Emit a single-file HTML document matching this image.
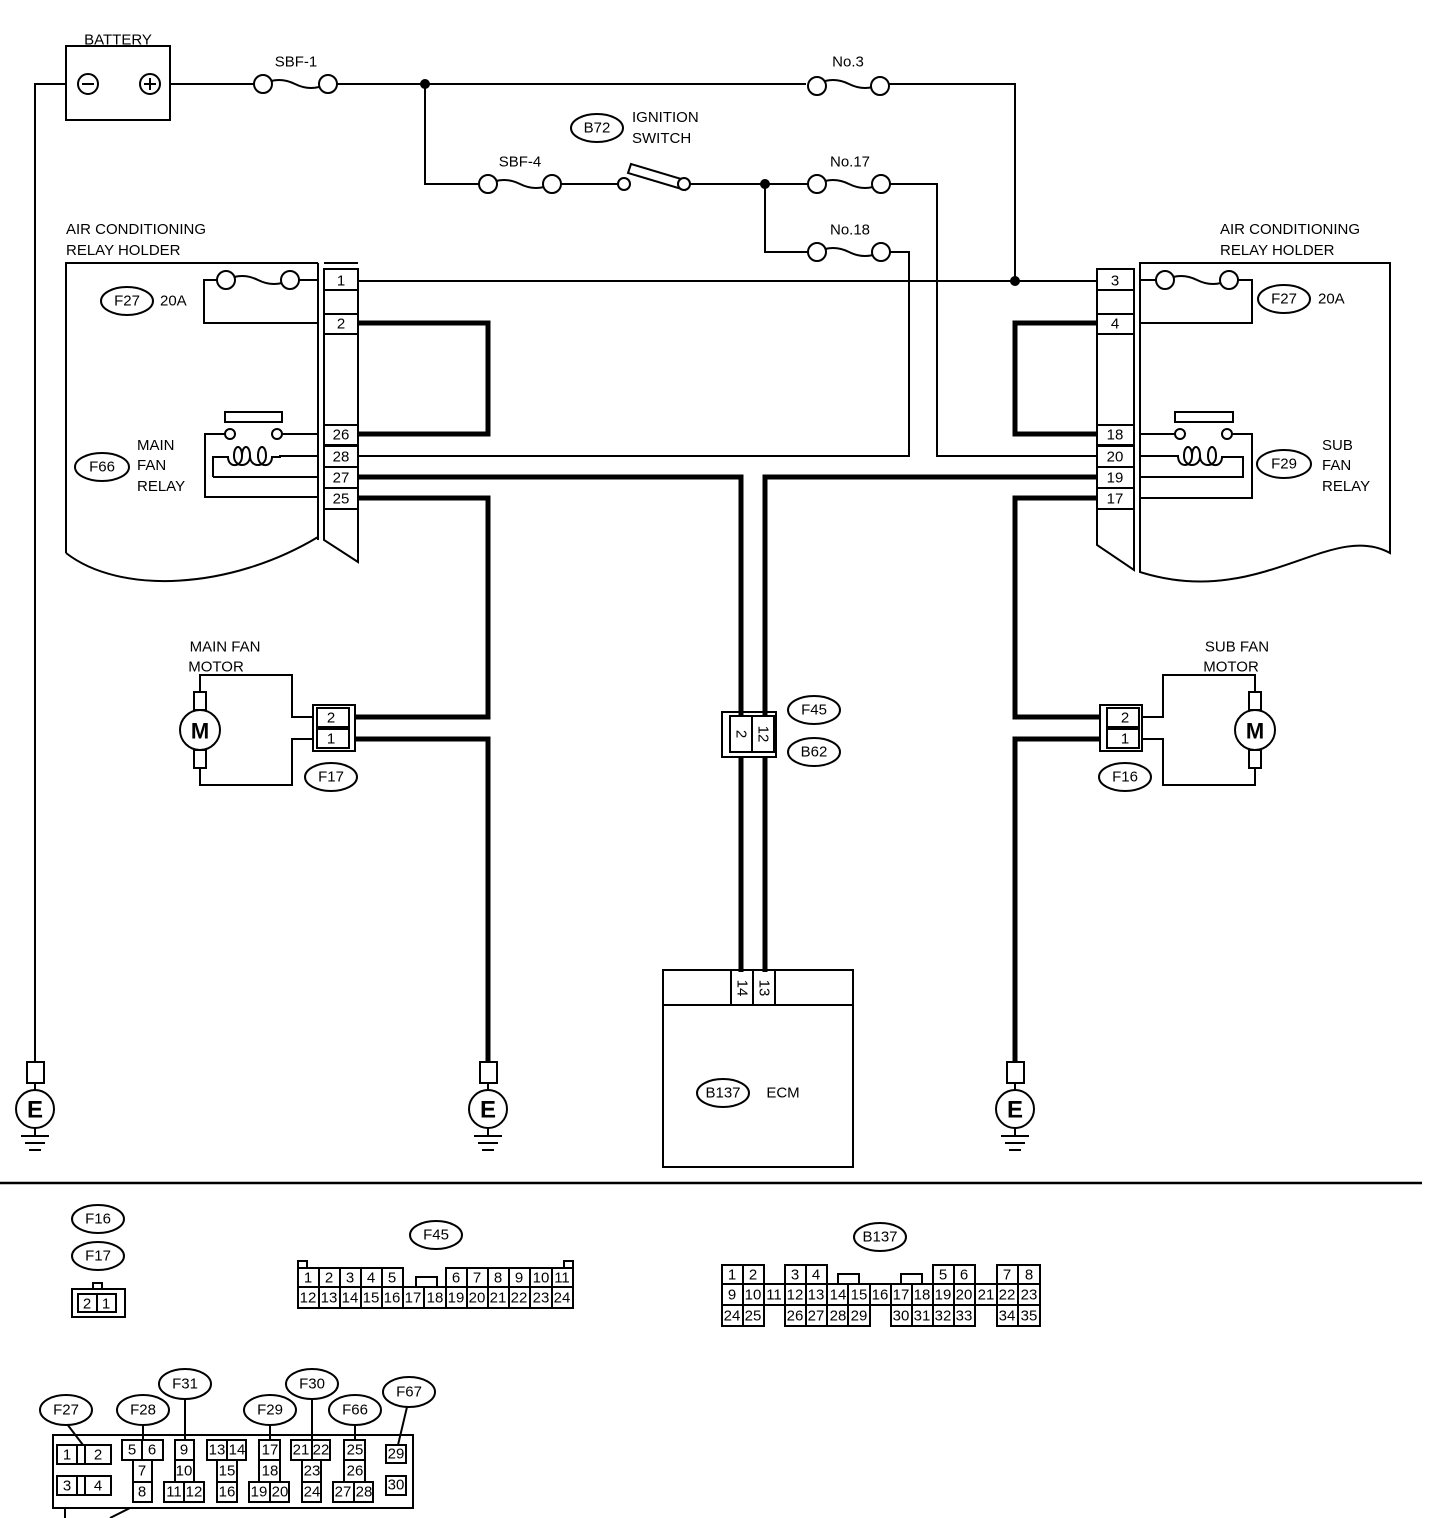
<!DOCTYPE html>
<html><head><meta charset="utf-8"><style>
html,body{margin:0;padding:0;background:#fff}
svg{display:block}
text{font-family:"Liberation Sans",sans-serif;font-size:15px;fill:#000}
.t{stroke:#000;stroke-width:2;fill:none}
.k{stroke:#000;stroke-width:5;fill:none}
.c{stroke:#000;stroke-width:2;fill:#fff}
.m{text-anchor:middle;dominant-baseline:central}
</style></head><body>
<svg width="1440" height="1518" viewBox="0 0 1440 1518" xmlns="http://www.w3.org/2000/svg">
<!-- Battery -->
<text x="118" y="40" class="m">BATTERY</text>
<rect x="66" y="46" width="104" height="74" class="t"/>
<circle cx="88" cy="84" r="10" class="t"/><line x1="82" y1="84" x2="94" y2="84" class="t"/>
<circle cx="150" cy="84" r="10" class="t"/><line x1="144" y1="84" x2="156" y2="84" class="t"/><line x1="150" y1="78" x2="150" y2="90" class="t"/>
<polyline points="66,84 35,84 35,1062" class="t"/>
<!-- top wire -->
<line x1="170" y1="84" x2="254" y2="84" class="t"/>
<path d="M263,84 q16,-8 32,0 t32,0" class="t"/>
<circle cx="263" cy="84" r="9" class="c"/><circle cx="328" cy="84" r="9" class="c"/>
<text x="296" y="62" class="m">SBF-1</text>
<line x1="337" y1="84" x2="806" y2="84" class="t"/>
<circle cx="425" cy="84" r="5" fill="#000"/>
<path d="M817,84 q16,-8 32,0 t32,0" class="t"/>
<circle cx="817" cy="86" r="9" class="c"/><circle cx="880" cy="86" r="9" class="c"/>
<text x="848" y="62" class="m">No.3</text>
<polyline points="889,84 1015,84 1015,281" class="t"/>
<circle cx="1015" cy="281" r="5" fill="#000"/>
<!-- SBF-4 row -->
<polyline points="425,84 425,184 479,184" class="t"/>
<path d="M488,184 q16,-8 32,0 t32,0" class="t"/>
<circle cx="488" cy="184" r="9" class="c"/><circle cx="552" cy="184" r="9" class="c"/>
<text x="520" y="162" class="m">SBF-4</text>
<line x1="561" y1="184" x2="618" y2="184" class="t"/>
<circle cx="624" cy="184" r="6" class="c"/>
<polygon points="631,164 688,181 685,190 628,173" class="t"/>
<circle cx="684" cy="184" r="6" class="c"/>
<line x1="690" y1="184" x2="808" y2="184" class="t"/>
<circle cx="765" cy="184" r="5" fill="#000"/>
<path d="M817,184 q16,-8 32,0 t32,0" class="t"/>
<circle cx="817" cy="184" r="9" class="c"/><circle cx="881" cy="184" r="9" class="c"/>
<text x="850" y="162" class="m">No.17</text>
<polyline points="890,184 937,184 937,456 1098,456" class="t"/>
<ellipse cx="597" cy="128" rx="26" ry="14" class="t" stroke-width="3"/>
<text x="597" y="128" class="m">B72</text>
<text x="632" y="122">IGNITION</text><text x="632" y="143">SWITCH</text>
<polyline points="765,184 765,252 808,252" class="t"/>
<path d="M817,252 q16,-8 32,0 t32,0" class="t"/>
<circle cx="817" cy="252" r="9" class="c"/><circle cx="881" cy="252" r="9" class="c"/>
<text x="850" y="230" class="m">No.18</text>
<polyline points="890,252 909,252 909,456 358,456" class="t"/>
<!-- Left relay holder -->
<text x="66" y="234">AIR CONDITIONING</text><text x="66" y="255">RELAY HOLDER</text>
<path d="M66,553 L66,263 L318,263 M318,263 L318,540 M66,553 C120,595 230,590 318,537" class="t"/>
<path d="M324,263 L358,263 M324,269 L324,540 L358,562 L358,269" class="t"/>
<g class="t">
<rect x="324" y="269" width="34" height="21"/><rect x="324" y="290" width="34" height="24"/><rect x="324" y="314" width="34" height="20"/>
<rect x="324" y="425" width="34" height="20"/><rect x="324" y="446" width="34" height="21"/><rect x="324" y="467" width="34" height="21"/><rect x="324" y="488" width="34" height="21"/>
</g>
<text x="341" y="281" class="m">1</text><text x="341" y="324" class="m">2</text><text x="341" y="435" class="m">26</text><text x="341" y="457" class="m">28</text><text x="341" y="478" class="m">27</text><text x="341" y="499" class="m">25</text>
<path d="M226,280 q16,-8 32,0 t32,0" class="t"/>
<circle cx="226" cy="280" r="9" class="c"/><circle cx="290" cy="280" r="9" class="c"/>
<polyline points="217,280 204,280 204,323 318,323" class="t"/><line x1="299" y1="280" x2="318" y2="280" class="t"/>
<ellipse cx="127" cy="301" rx="26" ry="14" class="t" stroke-width="3"/><text x="127" y="301" class="m">F27</text><text x="160" y="301" dominant-baseline="central">20A</text>
<rect x="225" y="412" width="57" height="10" class="t"/>
<circle cx="230" cy="434" r="5" class="c"/><circle cx="277" cy="434" r="5" class="c"/>
<line x1="282" y1="434" x2="318" y2="434" class="t"/>
<polyline points="225,434 205,434 205,497 318,497" class="t"/>
<path d="M213,477 L213,457 L228,457 C228,468 242,468 242,456 C242,444 234,444 234,456 C234,468 250,468 250,456 C250,444 242,444 242,456 M250,456 C250,468 266,468 266,456 C266,444 258,444 258,456 C258,468 272,468 272,457 L280,457 L280,456 L318,456 M213,477 L318,477" class="t"/>
<ellipse cx="102" cy="467" rx="27" ry="14" class="t" stroke-width="3"/><text x="102" y="467" class="m">F66</text>
<text x="137" y="450">MAIN</text><text x="137" y="470">FAN</text><text x="137" y="491">RELAY</text>
<!-- Right relay holder -->
<text x="1220" y="234">AIR CONDITIONING</text><text x="1220" y="255">RELAY HOLDER</text>
<path d="M1140,263 L1390,263 L1390,553 C1330,520 1260,610 1140,572 Z" class="t"/>
<path d="M1097,269 L1134,269 L1134,570 L1097,545 Z" class="t"/>
<g class="t">
<rect x="1097" y="269" width="37" height="21"/><rect x="1097" y="290" width="37" height="24"/><rect x="1097" y="314" width="37" height="20"/>
<rect x="1097" y="425" width="37" height="20"/><rect x="1097" y="446" width="37" height="21"/><rect x="1097" y="467" width="37" height="21"/><rect x="1097" y="488" width="37" height="21"/>
</g>
<text x="1115" y="281" class="m">3</text><text x="1115" y="324" class="m">4</text><text x="1115" y="435" class="m">18</text><text x="1115" y="457" class="m">20</text><text x="1115" y="478" class="m">19</text><text x="1115" y="499" class="m">17</text>
<path d="M1165,280 q16,-8 32,0 t32,0" class="t"/>
<circle cx="1165" cy="280" r="9" class="c"/><circle cx="1229" cy="280" r="9" class="c"/>
<polyline points="1238,280 1252,280 1252,323 1140,323" class="t"/><line x1="1140" y1="280" x2="1156" y2="280" class="t"/>
<ellipse cx="1284" cy="299" rx="26" ry="14" class="t" stroke-width="3"/><text x="1284" y="299" class="m">F27</text><text x="1318" y="299" dominant-baseline="central">20A</text>
<rect x="1175" y="412" width="58" height="10" class="t"/>
<circle cx="1180" cy="434" r="5" class="c"/><circle cx="1227" cy="434" r="5" class="c"/>
<line x1="1140" y1="434" x2="1175" y2="434" class="t"/>
<polyline points="1232,434 1252,434 1252,498 1140,498" class="t"/>
<path d="M1140,456 L1178,456 C1178,468 1192,468 1192,456 C1192,444 1184,444 1184,456 C1184,468 1200,468 1200,456 C1200,444 1192,444 1192,456 M1200,456 C1200,468 1216,468 1216,456 C1216,444 1208,444 1208,456 C1208,468 1222,468 1222,457 L1243,457 L1243,477 L1140,477" class="t"/>
<ellipse cx="1284" cy="464" rx="27" ry="14" class="t" stroke-width="3"/><text x="1284" y="464" class="m">F29</text>
<text x="1322" y="450">SUB</text><text x="1322" y="470">FAN</text><text x="1322" y="491">RELAY</text>
<!-- pin1 -> pin3 -->
<line x1="358" y1="281" x2="1097" y2="281" class="t"/>
<!-- thick wires -->
<polyline points="358,323 488,323 488,434 358,434" class="k"/>
<polyline points="358,477 741,477 741,715" class="k"/>
<polyline points="1097,477 765,477 765,715" class="k"/>
<polyline points="358,498 488,498 488,717 355,717" class="k"/>
<polyline points="355,739 488,739 488,1062" class="k"/>
<polyline points="1097,323 1015,323 1015,434 1097,434" class="k"/>
<polyline points="1097,498 1015,498 1015,717 1100,717" class="k"/>
<polyline points="1100,739 1015,739 1015,1062" class="k"/>
<line x1="741" y1="757" x2="741" y2="972" class="k"/><line x1="765" y1="757" x2="765" y2="972" class="k"/>
<!-- F45 / B62 connector -->
<rect x="722" y="712" width="54" height="45" class="t"/>
<rect x="730" y="716" width="22" height="36" class="t"/><rect x="752" y="716" width="22" height="36" class="t"/>
<text class="m" transform="translate(741,734) rotate(90)">2</text><text class="m" transform="translate(763,734) rotate(90)">12</text>
<ellipse cx="814" cy="710" rx="26" ry="14" class="t" stroke-width="3"/><text x="814" y="710" class="m">F45</text>
<ellipse cx="814" cy="752" rx="26" ry="14" class="t" stroke-width="3"/><text x="814" y="752" class="m">B62</text>
<!-- ECM -->
<rect x="663" y="970" width="190" height="197" class="t"/>
<polyline points="663,1005 853,1005" class="t"/>
<rect x="731" y="970" width="22" height="35" class="t"/><rect x="753" y="970" width="22" height="35" class="t"/>
<text class="m" transform="translate(742,988) rotate(90)">14</text><text class="m" transform="translate(764,988) rotate(90)">13</text>
<ellipse cx="723" cy="1093" rx="26" ry="14" class="t" stroke-width="3"/><text x="723" y="1093" class="m">B137</text>
<text x="783" y="1093" class="m">ECM</text>
<!-- Main fan motor -->
<text x="225" y="647" class="m">MAIN FAN</text><text x="216" y="667" class="m">MOTOR</text>
<polyline points="200,692 200,675 292,675 292,717 313,717" class="t"/>
<polyline points="200,768 200,785 292,785 292,739 313,739" class="t"/>
<rect x="194" y="692" width="12" height="18" class="t"/><rect x="194" y="750" width="12" height="18" class="t"/>
<circle cx="200" cy="730" r="20" class="c"/><text x="200" y="731" class="m" style="font-size:22px;font-weight:bold">M</text>
<rect x="313" y="705" width="42" height="46" class="t"/><rect x="317" y="708" width="32" height="19" class="t"/><rect x="317" y="729" width="32" height="19" class="t"/>
<text x="331" y="718" class="m">2</text><text x="331" y="739" class="m">1</text>
<ellipse cx="331" cy="777" rx="26" ry="14" class="t" stroke-width="3"/><text x="331" y="777" class="m">F17</text>
<!-- Sub fan motor -->
<text x="1237" y="647" class="m">SUB FAN</text><text x="1231" y="667" class="m">MOTOR</text>
<polyline points="1255,692 1255,675 1163,675 1163,717 1142,717" class="t"/>
<polyline points="1255,768 1255,785 1163,785 1163,739 1142,739" class="t"/>
<rect x="1249" y="692" width="12" height="18" class="t"/><rect x="1249" y="750" width="12" height="18" class="t"/>
<circle cx="1255" cy="730" r="20" class="c"/><text x="1255" y="731" class="m" style="font-size:22px;font-weight:bold">M</text>
<rect x="1100" y="705" width="42" height="46" class="t"/><rect x="1107" y="708" width="32" height="19" class="t"/><rect x="1107" y="729" width="32" height="19" class="t"/>
<text x="1125" y="718" class="m">2</text><text x="1125" y="739" class="m">1</text>
<ellipse cx="1125" cy="777" rx="26" ry="14" class="t" stroke-width="3"/><text x="1125" y="777" class="m">F16</text>
<!-- grounds -->
<g id="g1">
<rect x="27" y="1062" width="17" height="21" class="t"/>
<circle cx="35" cy="1109" r="19" class="t" stroke-width="3"/><text x="35" y="1110" class="m" style="font-size:24px;font-weight:bold">E</text>
<line x1="35" y1="1083" x2="35" y2="1090" class="t"/><line x1="35" y1="1128" x2="35" y2="1136" class="t"/>
<line x1="21" y1="1136" x2="49" y2="1136" class="t"/><line x1="25" y1="1143" x2="45" y2="1143" class="t"/><line x1="29" y1="1150" x2="41" y2="1150" class="t"/>
</g>
<use href="#g1" x="453"/><use href="#g1" x="980"/>
<!-- separator -->
<line x1="0" y1="1183" x2="1422" y2="1183" stroke="#000" stroke-width="2.5"/>
<!-- F16/F17 connector -->
<ellipse cx="98" cy="1219" rx="26" ry="14" class="t" stroke-width="3"/><text x="98" y="1219" class="m">F16</text>
<ellipse cx="98" cy="1256" rx="26" ry="14" class="t" stroke-width="3"/><text x="98" y="1256" class="m">F17</text>
<rect x="93" y="1283" width="9" height="6" class="t"/>
<rect x="72" y="1289" width="53" height="28" class="t"/><rect x="78" y="1294" width="19" height="18" class="t"/><rect x="97" y="1294" width="19" height="18" class="t"/>
<text x="87" y="1304" class="m">2</text><text x="106" y="1304" class="m">1</text>
<!-- F45 connector -->
<ellipse cx="436" cy="1235" rx="26" ry="14" class="t" stroke-width="3"/><text x="436" y="1235" class="m">F45</text>
<path d="M298,1268 H403 V1287 H298 Z M446,1268 H573 V1287 H446 Z M298,1287 H573 V1308 H298 Z M298,1268 v-7 h9 v7 M573,1268 v-7 h-9 v7 M416,1287 v-10 h21 v10" class="t"/>
<g class="t" stroke-width="1">
<line x1="319" y1="1268" x2="319" y2="1308"/><line x1="340" y1="1268" x2="340" y2="1308"/><line x1="361" y1="1268" x2="361" y2="1308"/><line x1="382" y1="1268" x2="382" y2="1308"/><line x1="403" y1="1287" x2="403" y2="1308"/><line x1="424" y1="1287" x2="424" y2="1308"/><line x1="446" y1="1287" x2="446" y2="1308"/><line x1="467" y1="1268" x2="467" y2="1308"/><line x1="488" y1="1268" x2="488" y2="1308"/><line x1="509" y1="1268" x2="509" y2="1308"/><line x1="530" y1="1268" x2="530" y2="1308"/><line x1="552" y1="1268" x2="552" y2="1308"/>
</g>
<g style="font-size:14px">
<text x="308" y="1278" class="m">1</text><text x="329" y="1278" class="m">2</text><text x="350" y="1278" class="m">3</text><text x="371" y="1278" class="m">4</text><text x="392" y="1278" class="m">5</text>
<text x="456" y="1278" class="m">6</text><text x="477" y="1278" class="m">7</text><text x="498" y="1278" class="m">8</text><text x="519" y="1278" class="m">9</text><text x="541" y="1278" class="m">10</text><text x="562" y="1278" class="m">11</text>
<text x="308" y="1298" class="m">12</text><text x="329" y="1298" class="m">13</text><text x="350" y="1298" class="m">14</text><text x="371" y="1298" class="m">15</text><text x="392" y="1298" class="m">16</text><text x="413" y="1298" class="m">17</text><text x="435" y="1298" class="m">18</text><text x="456" y="1298" class="m">19</text><text x="477" y="1298" class="m">20</text><text x="498" y="1298" class="m">21</text><text x="519" y="1298" class="m">22</text><text x="541" y="1298" class="m">23</text><text x="562" y="1298" class="m">24</text>
</g>
<!-- B137 connector -->
<ellipse cx="880" cy="1237" rx="26" ry="14" class="t" stroke-width="3"/><text x="880" y="1237" class="m">B137</text>
<g class="t" stroke-width="1.5">
<rect x="722" y="1265" width="42" height="19"/><rect x="785" y="1265" width="42" height="19"/><rect x="933" y="1265" width="42" height="19"/><rect x="997" y="1265" width="43" height="19"/>
<rect x="722" y="1284" width="318" height="21"/>
<rect x="722" y="1305" width="42" height="21"/><rect x="785" y="1305" width="85" height="21"/><rect x="891" y="1305" width="84" height="21"/><rect x="997" y="1305" width="43" height="21"/>
<path d="M838,1284 v-10 h21 v10 M901,1284 v-10 h21 v10"/>
<line x1="743" y1="1265" x2="743" y2="1326"/><line x1="764" y1="1284" x2="764" y2="1305"/><line x1="785" y1="1284" x2="785" y2="1305"/><line x1="806" y1="1265" x2="806" y2="1326"/><line x1="827" y1="1284" x2="827" y2="1326"/><line x1="848" y1="1284" x2="848" y2="1326"/><line x1="870" y1="1284" x2="870" y2="1305"/><line x1="891" y1="1284" x2="891" y2="1305"/><line x1="912" y1="1284" x2="912" y2="1326"/><line x1="933" y1="1284" x2="933" y2="1326"/><line x1="954" y1="1265" x2="954" y2="1326"/><line x1="975" y1="1284" x2="975" y2="1305"/><line x1="997" y1="1284" x2="997" y2="1305"/><line x1="1018" y1="1265" x2="1018" y2="1326"/>
</g>
<g style="font-size:14px">
<text x="732" y="1275" class="m">1</text><text x="753" y="1275" class="m">2</text><text x="795" y="1275" class="m">3</text><text x="816" y="1275" class="m">4</text><text x="943" y="1275" class="m">5</text><text x="964" y="1275" class="m">6</text><text x="1007" y="1275" class="m">7</text><text x="1029" y="1275" class="m">8</text>
<text x="732" y="1295" class="m">9</text><text x="753" y="1295" class="m">10</text><text x="774" y="1295" class="m">11</text><text x="795" y="1295" class="m">12</text><text x="816" y="1295" class="m">13</text><text x="838" y="1295" class="m">14</text><text x="859" y="1295" class="m">15</text><text x="880" y="1295" class="m">16</text><text x="901" y="1295" class="m">17</text><text x="922" y="1295" class="m">18</text><text x="943" y="1295" class="m">19</text><text x="964" y="1295" class="m">20</text><text x="986" y="1295" class="m">21</text><text x="1007" y="1295" class="m">22</text><text x="1029" y="1295" class="m">23</text>
<text x="732" y="1316" class="m">24</text><text x="753" y="1316" class="m">25</text><text x="795" y="1316" class="m">26</text><text x="816" y="1316" class="m">27</text><text x="838" y="1316" class="m">28</text><text x="859" y="1316" class="m">29</text><text x="901" y="1316" class="m">30</text><text x="922" y="1316" class="m">31</text><text x="943" y="1316" class="m">32</text><text x="964" y="1316" class="m">33</text><text x="1007" y="1316" class="m">34</text><text x="1029" y="1316" class="m">35</text>
</g>
<!-- relay block bottom -->
<rect x="53" y="1435" width="360" height="73" class="t" stroke-width="1.5"/>
<line x1="65" y1="1508" x2="65" y2="1518" class="t" stroke-width="1.5"/><line x1="110" y1="1518" x2="130" y2="1508" class="t" stroke-width="1.5"/>
<g class="t" stroke-width="2">
<rect x="57" y="1445" width="54" height="19"/><line x1="77" y1="1445" x2="77" y2="1464"/><line x1="85" y1="1445" x2="85" y2="1464"/>
<rect x="57" y="1476" width="54" height="19"/><line x1="77" y1="1476" x2="77" y2="1495"/><line x1="85" y1="1476" x2="85" y2="1495"/>
<rect x="122" y="1440" width="41" height="20"/><line x1="142" y1="1440" x2="142" y2="1460"/><rect x="133" y="1460" width="19" height="22"/><rect x="133" y="1482" width="19" height="20"/>
<rect x="175" y="1440" width="19" height="20"/><rect x="175" y="1460" width="19" height="22"/><rect x="164" y="1482" width="40" height="20"/><line x1="184" y1="1482" x2="184" y2="1502"/>
<rect x="207" y="1440" width="39" height="20"/><line x1="227" y1="1440" x2="227" y2="1460"/><rect x="217" y="1460" width="20" height="22"/><rect x="217" y="1482" width="20" height="20"/>
<rect x="259" y="1440" width="21" height="20"/><rect x="259" y="1460" width="21" height="22"/><rect x="249" y="1482" width="40" height="20"/><line x1="270" y1="1482" x2="270" y2="1502"/>
<rect x="291" y="1440" width="39" height="20"/><line x1="312" y1="1440" x2="312" y2="1460"/><rect x="302" y="1460" width="19" height="22"/><rect x="302" y="1482" width="19" height="20"/>
<rect x="344" y="1440" width="21" height="20"/><rect x="344" y="1460" width="21" height="22"/><rect x="333" y="1482" width="40" height="20"/><line x1="354" y1="1482" x2="354" y2="1502"/>
<rect x="386" y="1445" width="20" height="18"/><rect x="386" y="1476" width="20" height="19"/>
<line x1="67" y1="1424" x2="83" y2="1445"/><line x1="143" y1="1424" x2="143" y2="1440"/><line x1="185" y1="1399" x2="185" y2="1440"/><line x1="270" y1="1424" x2="270" y2="1440"/><line x1="312" y1="1399" x2="312" y2="1440"/><line x1="355" y1="1424" x2="355" y2="1440"/><line x1="407" y1="1407" x2="398" y2="1445"/>
</g>
<g style="font-size:14px">
<text x="67" y="1455" class="m">1</text><text x="98" y="1455" class="m">2</text><text x="67" y="1486" class="m">3</text><text x="98" y="1486" class="m">4</text>
<text x="132" y="1450" class="m">5</text><text x="152" y="1450" class="m">6</text><text x="142" y="1471" class="m">7</text><text x="142" y="1492" class="m">8</text>
<text x="184" y="1450" class="m">9</text><text x="184" y="1471" class="m">10</text><text x="174" y="1492" class="m">11</text><text x="194" y="1492" class="m">12</text>
<text x="217" y="1450" class="m">13</text><text x="237" y="1450" class="m">14</text><text x="227" y="1471" class="m">15</text><text x="227" y="1492" class="m">16</text>
<text x="270" y="1450" class="m">17</text><text x="270" y="1471" class="m">18</text><text x="259" y="1492" class="m">19</text><text x="280" y="1492" class="m">20</text>
<text x="301" y="1450" class="m">21</text><text x="321" y="1450" class="m">22</text><text x="312" y="1471" class="m">23</text><text x="312" y="1492" class="m">24</text>
<text x="355" y="1450" class="m">25</text><text x="355" y="1471" class="m">26</text><text x="343" y="1492" class="m">27</text><text x="364" y="1492" class="m">28</text>
<text x="396" y="1454" class="m">29</text><text x="396" y="1485" class="m">30</text>
</g>
<g>
<ellipse cx="66" cy="1410" rx="26" ry="15" class="c" stroke-width="3"/><text x="66" y="1410" class="m">F27</text>
<ellipse cx="143" cy="1410" rx="26" ry="15" class="c" stroke-width="3"/><text x="143" y="1410" class="m">F28</text>
<ellipse cx="185" cy="1384" rx="26" ry="15" class="c" stroke-width="3"/><text x="185" y="1384" class="m">F31</text>
<ellipse cx="270" cy="1410" rx="26" ry="15" class="c" stroke-width="3"/><text x="270" y="1410" class="m">F29</text>
<ellipse cx="312" cy="1384" rx="26" ry="15" class="c" stroke-width="3"/><text x="312" y="1384" class="m">F30</text>
<ellipse cx="355" cy="1410" rx="26" ry="15" class="c" stroke-width="3"/><text x="355" y="1410" class="m">F66</text>
<ellipse cx="409" cy="1392" rx="26" ry="15" class="c" stroke-width="3"/><text x="409" y="1392" class="m">F67</text>
</g>
</svg>
</body></html>
